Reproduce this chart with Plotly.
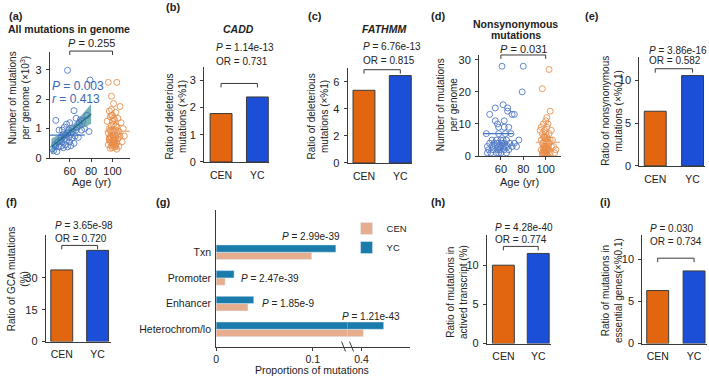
import numpy as np
import plotly.graph_objects as go

# ------------------------------------------------------------------ data
groups = ["CEN", "YC"]

# (a) all mutations per genome (x10^3) vs age
a_yc_age = [44, 45, 46, 47, 47, 48, 49, 50, 50, 51,
            52, 52, 53, 53, 54, 54, 55, 55, 56, 56,
            57, 57, 58, 58, 58, 59, 59, 60, 60, 61,
            61, 62, 62, 63, 64, 64, 65, 66, 66, 67,
            68, 69, 70, 71, 72, 74, 76, 78, 79]
a_yc_val = [0.32, 0.25, 0.45, 1.28, 0.40, 0.22, 0.55, 0.95, 0.38, 0.60,
            0.40, 0.72, 0.95, 0.55, 0.35, 0.80, 0.65, 1.05, 0.45, 0.78,
            1.15, 0.60, 2.98, 0.85, 0.38, 0.70, 0.95, 0.55, 1.20, 0.80,
            0.42, 0.68, 1.00, 0.90, 1.61, 0.50, 0.75, 1.35, 0.95, 1.05,
            0.70, 1.20, 1.30, 0.95, 1.25, 1.00, 1.45, 0.90, 2.65]
a_cen_age = [96, 104, 99, 101, 107, 97, 103, 100, 98, 105,
             102, 95, 108, 101, 99, 104, 97, 110, 100, 103,
             98, 106, 101, 99, 104, 96, 102, 100, 107, 98,
             103, 101, 99, 105, 97, 100, 102, 109, 98, 104,
             100, 101, 103, 96, 99, 106, 102, 100, 98, 104,
             101, 97, 103, 100, 99, 105, 102, 98, 101, 111,
             100, 103, 97, 102, 99]
a_cen_val = [2.57, 2.57, 2.10, 1.85, 1.75, 1.60, 1.55, 1.45, 1.40, 1.35,
             1.30, 1.25, 1.20, 1.15, 1.10, 1.05, 1.00, 1.00, 0.95, 0.95,
             0.92, 0.90, 0.90, 0.88, 0.85, 0.85, 0.80, 0.78, 0.75, 0.72,
             0.70, 0.70, 0.68, 0.65, 0.62, 0.60, 0.58, 0.55, 0.55, 0.52,
             0.50, 0.48, 0.45, 0.45, 0.42, 0.40, 0.38, 0.35, 0.33, 0.30,
             0.60, 0.65, 1.10, 1.25, 1.45, 0.80, 0.50, 0.95, 1.35, 0.75,
             0.45, 0.40, 0.70, 0.62, 1.65]
a_group_level = [0.91, 0.78]          # CEN, YC summary lines
a_p_groups = "0.255"
a_p_corr = "0.003"
a_r_corr = "0.413"

# (d) nonsynonymous mutations per genome vs age
d_yc_age = [61, 80, 79, 62, 55, 66, 50, 66, 70, 72,
            55, 57, 63, 58, 63, 67, 47, 58, 64, 69,
            52, 56, 60, 62, 65, 76, 50, 54, 57, 61,
            63, 68, 72, 48, 52, 55, 58, 60, 62, 64,
            66, 70, 74, 49, 53, 57, 59, 63, 67, 51,
            56, 60, 65, 48, 58]
d_yc_val = [28, 28, 20, 16, 15, 15, 13, 14, 13, 13,
            11, 10, 11, 9, 9, 9, 7, 7, 7, 7,
            5, 5, 5, 5, 5, 5, 4, 4, 4, 4,
            4, 4, 4, 3, 3, 3, 3, 3, 3, 3,
            3, 3, 3, 2, 2, 2, 2, 2, 2, 1,
            1, 1, 1, 1, 1]
d_cen_age = [103, 97, 104, 100, 98, 102, 96, 101, 99, 105,
             97, 100, 103, 98, 101, 99, 102, 104, 96, 100,
             98, 101, 103, 97, 99, 102, 100, 105, 98, 101,
             99, 103, 96, 100, 102, 97, 101, 99, 104, 98,
             100, 102, 99, 101, 97, 103, 100, 98, 106, 108,
             95, 107, 109, 101, 99]
d_cen_val = [27, 21, 14, 11, 10, 10, 9, 9, 8, 8,
             7, 7, 7, 6, 6, 6, 5, 5, 5, 5,
             4, 4, 4, 4, 3, 3, 3, 3, 3, 2,
             2, 2, 2, 2, 2, 1, 1, 1, 1, 1,
             1, 0, 0, 0, 0, 4, 3, 2, 5, 1,
             8, 3, 2, 12, 6]
d_group_level = [4.3, 7.0]
d_p_groups = "0.031"

# bar panels (CEN, YC)
b_vals = [1.78, 2.39]
c_vals = [5.38, 6.47]
e_vals = [6.4, 10.57]
f_vals = [33.7, 42.9]
h_vals = [10.0, 11.5]
i_vals = [6.28, 8.6]
b_stats = ("1.14e-13", "0.731")
c_stats = ("6.76e-13", "0.815")
e_stats = ("3.86e-16", "0.582")
f_stats = ("3.65e-98", "0.720")
h_stats = ("4.28e-40", "0.774")
i_stats = ("0.030", "0.734")

# (g) proportions of mutations by chromatin state
g_cats = ["Txn", "Promoter", "Enhancer", "Heterochrom/lo"]
g_cen = [0.099, 0.0093, 0.033, 0.402]
g_yc = [0.124, 0.0186, 0.039, 0.423]
g_p = ["2.99e-39", "2.47e-39", "1.85e-9", "1.21e-43"]

# ------------------------------------------------------------------ style
W, H = 709, 381
FONT = "Liberation Sans, Arial, Helvetica, sans-serif"
AX = "#3a3a3a"
TXT = "#222222"
CEN_C = "#E2650F"
YC_C = "#1B4FD8"
PT_YC = "rgba(70,115,195,0.85)"
PT_CEN = "rgba(232,140,70,0.85)"
BLUE_TXT = "#3A68B6"
G_CEN = "#E6AD8E"
G_YC = "#1B7CAB"


def PX(x):
    return x / W


def PY(y):
    return 1 - y / H


fig = go.Figure()
layout = dict(width=W, height=H, margin=dict(l=0, r=0, t=0, b=0),
              paper_bgcolor="white", plot_bgcolor="white",
              font=dict(family=FONT, size=11, color=TXT),
              barmode="group", bargap=0.43, bargroupgap=0)
annotations = []
shapes = []
count = [0]


def ann(text, x, y, size=10, xanchor="left", yanchor="middle", color=TXT, angle=0):
    annotations.append(dict(text=text, x=PX(x), y=PY(y), xref="paper", yref="paper",
                            xanchor=xanchor, yanchor=yanchor, showarrow=False,
                            textangle=angle, font=dict(size=size, color=color, family=FONT)))


def axes(L, R, top, bottom, xr, yr, xkw=None, ykw=None):
    count[0] += 1
    s = "" if count[0] == 1 else str(count[0])
    base = dict(showline=True, linecolor=AX, linewidth=1, showgrid=False, zeroline=False,
                ticks="outside", ticklen=3, tickwidth=1, tickcolor=AX,
                tickfont=dict(size=11, color=TXT, family=FONT), fixedrange=True)
    xa = dict(base, domain=[PX(L), PX(R)], range=xr, anchor="y" + s)
    ya = dict(base, domain=[PY(bottom), PY(top)], range=yr, anchor="x" + s)
    xa.update(xkw or {})
    ya.update(ykw or {})
    layout["xaxis" + s] = xa
    layout["yaxis" + s] = ya
    return "x" + s, "y" + s


def bracket(xref, x0, x1, y, drop=4):
    for (a, b, c, d) in [(x0, y, x1, y), (x0, y, x0, y + drop), (x1, y, x1, y + drop)]:
        shapes.append(dict(type="line", xref=xref, yref="paper", x0=a, x1=c,
                           y0=PY(b), y1=PY(d), line=dict(color=AX, width=1)))


def scatter_panel(yc_age, yc_val, cen_age, cen_val, levels, L, R, top, bottom,
                  x60, x100, ymax, yticks, spans, regression=False):
    ppy = (x100 - x60) / 40.0
    xr = [60 - (x60 - L) / ppy, 100 + (R - x100) / ppy]
    xa, ya = axes(L, R, top, bottom, xr, [0, ymax],
                  xkw=dict(tickvals=[60, 80, 100], ticklabelstandoff=0),
                  ykw=dict(tickvals=yticks, ticklabelstandoff=2))
    if regression:
        x = np.array(yc_age, float)
        y = np.array(yc_val, float)
        slope, icpt = np.polyfit(x, y, 1)
        n = len(x)
        s = np.sqrt(np.sum((y - (slope * x + icpt)) ** 2) / (n - 2))
        sxx = np.sum((x - x.mean()) ** 2)
        xs = np.linspace(x.min() - 1, x.max() + 1, 60)
        fit = slope * xs + icpt
        se = s * np.sqrt(1.0 / n + (xs - x.mean()) ** 2 / sxx)
        t = 2.01
        fig.add_trace(go.Scatter(x=np.concatenate([xs, xs[::-1]]),
                                 y=np.concatenate([fit + t * se, (fit - t * se)[::-1]]),
                                 fill="toself", fillcolor="rgba(28,128,135,0.6)",
                                 line=dict(width=0), mode="lines", hoverinfo="skip",
                                 xaxis=xa, yaxis=ya, showlegend=False))
    fig.add_trace(go.Scatter(x=yc_age, y=yc_val, mode="markers", xaxis=xa, yaxis=ya,
                             marker=dict(symbol="circle-open", size=6, color=PT_YC,
                                         line=dict(width=1, color=PT_YC)),
                             showlegend=False))
    fig.add_trace(go.Scatter(x=cen_age, y=cen_val, mode="markers", xaxis=xa, yaxis=ya,
                             marker=dict(symbol="circle-open", size=6, color=PT_CEN,
                                         line=dict(width=1, color=PT_CEN)),
                             showlegend=False))
    if regression:
        fig.add_trace(go.Scatter(x=xs, y=fit, mode="lines", xaxis=xa, yaxis=ya,
                                 line=dict(color="#1E6E8C", width=1.3), showlegend=False))
    line_cols = ["rgba(240,170,120,0.9)", "rgba(60,110,190,0.95)"]
    for lvl, span, col in zip(levels, spans, line_cols):
        fig.add_trace(go.Scatter(x=span, y=[lvl, lvl], mode="lines", xaxis=xa, yaxis=ya,
                                 line=dict(color=col, width=1.3), showlegend=False))
    return xa, ya


def bar_panel(vals, stats, L, R, cx, yx, top, bottom, ymax, yticks, br_y, p_y, or_y, tx):
    sp = yx - cx
    xr = [(L - cx) / sp, 1 + (R - yx) / sp]
    xa, ya = axes(L, R, top, bottom, xr, [0, ymax],
                  xkw=dict(type="category", ticks="", tickfont=dict(size=10.5, color=TXT, family=FONT),
                           ticklabelstandoff=3),
                  ykw=dict(tickvals=yticks, ticklabelstandoff=2))
    fig.add_trace(go.Bar(x=groups, y=vals, xaxis=xa, yaxis=ya, width=22 / sp,
                         marker=dict(color=[CEN_C, YC_C], line=dict(color=AX, width=1)),
                         showlegend=False, hoverinfo="skip"))
    bracket(xa, 0, 1, br_y)
    ann("<i>P</i> = " + stats[0], tx, p_y)
    ann("OR = " + stats[1], tx, or_y)


# ---------------- (a)
xa_a, _ = scatter_panel(a_yc_age, a_yc_val, a_cen_age, a_cen_val, a_group_level,
                        47, 128, 52, 160, 67, 110, 3.6, [0, 1, 2, 3],
                        [[92.6, 116], [41.5, 74]], regression=True)
bracket(xa_a, 60, 100, 51)
ann("<i>P</i> = " + a_p_groups, 88.5, 43, size=11, xanchor="center")
ann("<i>P</i> = " + a_p_corr, 47, 87, size=12, color=BLUE_TXT)
ann("<i>r</i> = " + a_r_corr, 47, 100, size=12, color=BLUE_TXT)
ann("<b>All mutations in genome</b>", 66.5, 29, size=10.5, xanchor="center")
ann("Age (yr)", 88.5, 184, size=11, xanchor="center")
ann("Number of mutations<br>per genome (×10<sup>3</sup>)", 16, 98, size=10, xanchor="center", angle=-90)
ann("<b>(a)</b>", 4, 15, size=11)

# ---------------- (b)
bar_panel(b_vals, b_stats, 202, 267, 219, 255.5, 67, 164, 3.5, [0, 1, 2, 3], 84, 47, 62, 212)
ann("<b><i>CADD</i></b>", 237, 29, size=10.5, xanchor="center")
ann("Ratio of deleterious<br>mutations (×%1)", 173.5, 118, size=10, xanchor="center", angle=-90)
ann("<b>(b)</b>", 162, 6, size=11)

# ---------------- (c)
bar_panel(c_vals, c_stats, 346, 411, 362.5, 399, 68, 165, 7.05, [0, 2, 4, 6], 70, 46, 61, 360)
ann("<b><i>FATHMM</i></b>", 383, 29, size=10.5, xanchor="center")
ann("Ratio of deleterious<br>mutations (×%1)", 316, 118, size=10, xanchor="center", angle=-90)
ann("<b>(c)</b>", 304, 15, size=11)

# ---------------- (d)
xa_d, _ = scatter_panel(d_yc_age, d_yc_val, d_cen_age, d_cen_val, d_group_level,
                        478, 560, 55, 158, 500, 545, 31.5, [0, 10, 20, 30],
                        [[91, 113], [44, 71]])
bracket(xa_d, 60, 100, 55)
ann("<i>P</i> = " + d_p_groups, 522.5, 49, size=11, xanchor="center")
ann("<b>Nonsynonymous</b>", 515, 23, size=10.5, xanchor="center")
ann("<b>mutations</b>", 515, 35, size=10.5, xanchor="center")
ann("Age (yr)", 519, 184, size=11, xanchor="center")
ann("Number of mutations<br>per genome", 446, 106, size=10, xanchor="center", angle=-90)
ann("<b>(d)</b>", 428, 15, size=11)

# ---------------- (e)
bar_panel(e_vals, e_stats, 639, 705, 655, 692.5, 57, 168, 12.75, [0, 5, 10], 69, 50, 61, 647)
ann("Ratio of nonsynonymous<br>mutations (×%0.1)", 611.5, 112, size=10, xanchor="center", angle=-90)
ann("<b>(e)</b>", 582, 15, size=11)

# ---------------- (f)
bar_panel(f_vals, f_stats, 43, 108, 59, 95, 238, 347, 50.3, [0, 15, 30], 249, 229, 242, 50)
ann("Ratio of GCA mutations<br>(%)", 14.5, 283, size=10, xanchor="center", angle=-90)
ann("<b>(f)</b>", 1, 205, size=11)

# ---------------- (h)
bar_panel(h_vals, h_stats, 486, 550, 502.5, 537.5, 238, 349, 13.9, [0, 5, 10], 250, 231, 243, 492)
ann("Ratio of mutations in<br>actived transcript (%)", 455.5, 297, size=10, xanchor="center", angle=-90)
ann("<b>(h)</b>", 428, 205, size=11)

# ---------------- (i)
bar_panel(i_vals, i_stats, 642, 707, 657.5, 694, 238, 349, 12.9, [0, 5, 10], 262, 232, 245, 648)
ann("Ratio of mutations in<br>essential genes(×%0.1)", 611, 295, size=10, xanchor="center", angle=-90)
ann("<b>(i)</b>", 598, 205, size=11)

# ---------------- (g) horizontal bars with broken x axis
g_order = g_cats[::-1]
ppu = 970.0  # pixels per unit on the x scale
xg1, yg = axes(214, 346, 213, 352, [0, (346 - 214) / ppu], [-0.67, 4.64],
               xkw=dict(tickvals=[0, 0.1], ticktext=["0", "0.1"], ticklabelstandoff=0,
                        tickfont=dict(size=10.5, color=TXT, family=FONT)),
               ykw=dict(type="category", categoryorder="array", categoryarray=g_order,
                        ticks="", tickfont=dict(size=10.5, color=TXT, family=FONT),
                        ticklabelstandoff=2))
count[0] += 1
xg2 = "x" + str(count[0])
layout["xaxis" + str(count[0])] = dict(
    domain=[PX(346), PX(409)], range=[0.4 - 14 / ppu, 0.4 + 49 / ppu], anchor=yg,
    showline=True, linecolor=AX, linewidth=1, showgrid=False, zeroline=False,
    ticks="outside", ticklen=3, tickcolor=AX, tickvals=[0.4], ticktext=["0.4"],
    ticklabelstandoff=0,
    tickfont=dict(size=10.5, color=TXT, family=FONT), fixedrange=True)
for xref, show in [(xg1, True), (xg2, False)]:
    fig.add_trace(go.Bar(y=g_cats, x=g_cen, orientation="h", name="CEN", marker_color=G_CEN,
                         xaxis=xref, yaxis=yg, showlegend=show, hoverinfo="skip"))
    fig.add_trace(go.Bar(y=g_cats, x=g_yc, orientation="h", name="YC", marker_color=G_YC,
                         xaxis=xref, yaxis=yg, showlegend=show, hoverinfo="skip"))
for xm in (342, 350):
    shapes.append(dict(type="line", xref="paper", yref="paper", x0=PX(xm - 2), x1=PX(xm + 2),
                       y0=PY(347), y1=PY(357), line=dict(color=AX, width=1)))
for txt, (x, y) in zip(g_p, [(278, 240), (237, 283), (258, 308), (338, 321)]):
    ann("<i>P</i> = " + txt, x, y, size=10)
ann("Proportions of mutations", 310, 375.5, size=10.5, xanchor="center")
ann("<b>(g)</b>", 152, 205, size=11)

layout["legend"] = dict(x=PX(345), y=PY(217), xanchor="left", yanchor="top",
                        bgcolor="rgba(0,0,0,0)", font=dict(size=9.5, family=FONT, color=TXT),
                        traceorder="normal", itemwidth=30, tracegroupgap=0)
layout["showlegend"] = True
layout["annotations"] = annotations
layout["shapes"] = shapes
fig.update_layout(**layout)
fig.write_html("out.html", config={"displayModeBar": False},
               post_script="document.body.style.margin='0';document.body.style.overflow='hidden';")
